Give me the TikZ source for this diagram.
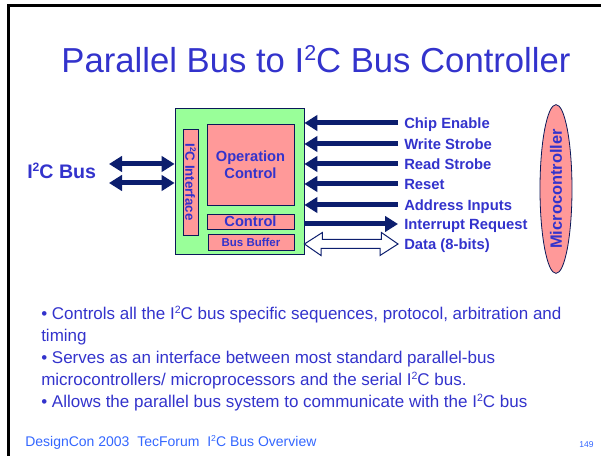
\documentclass[tikz,border=0pt]{standalone}
\usepackage{graphicx}
\usepackage{fontspec}
\setmainfont{Liberation Sans}
\usetikzlibrary{arrows.meta,shapes.geometric,positioning}

\definecolor{titleblue}{RGB}{51,51,204}
\definecolor{navy}{RGB}{12,30,110}
\definecolor{chipgreen}{RGB}{153,255,153}
\definecolor{salmon}{RGB}{255,153,153}
\definecolor{footblue}{RGB}{51,102,255}
\newcommand{\pxu}{0.75pt}
\newcommand{\Itwo}{I\raisebox{0.36em}{\scalebox{0.62}{2}}C}

\begin{document}
\begin{tikzpicture}[x=0.75pt, y=-0.75pt, >={Triangle[length=9.75pt,width=11.5pt]},
    block/.style={draw=navy!80!black, line width=0.6pt, fill=salmon, inner sep=0pt, text=titleblue},
    sig/.style={draw=navy, line width=3.75pt},
    lbl/.style={anchor=west, text=titleblue, font=\bfseries\fontsize{11.1pt}{13pt}\selectfont,
        inner xsep=4.5pt, inner ysep=0pt, text height=8pt, text depth=0pt}]
    \useasboundingbox (0,0) rectangle (601,456);

    % slide frame
    \draw[line width=2.25pt] (8,460) -- (8,6) -- (605,6);

    \node[anchor=base, text=titleblue, font=\fontsize{26pt}{30pt}\selectfont, inner sep=0]
        (title) at (316,73) {Parallel Bus to \Itwo{} Bus Controller};

    % controller chip
    \node[draw=navy!80!black, line width=0.6pt, fill=chipgreen, inner sep=0,
        minimum width={129*\pxu}, minimum height={146*\pxu}] (chip) at (239.5,181) {};
    \node[block, rotate=-90, minimum width={106*\pxu}, minimum height={15*\pxu},
        font=\bfseries\fontsize{10pt}{12pt}\selectfont] (iface) at (190.5,182) {\Itwo{} Interface};
    \node[block, align=center, minimum width={87*\pxu}, minimum height={81*\pxu},
        font=\bfseries\fontsize{11pt}{12.5pt}\selectfont] (opctl) at (250.5,164.5) {Operation\\Control};
    \node[block, minimum width={87*\pxu}, minimum height={15*\pxu},
        font=\bfseries\fontsize{11pt}{12pt}\selectfont] (ctl) at (250.5,221.5) {Control};
    \node[block, minimum width={86*\pxu}, minimum height={16*\pxu},
        font=\bfseries\fontsize{8.6pt}{10pt}\selectfont] (buf) at (251,242) {Bus Buffer};

    % serial side
    \node[anchor=base west, inner sep=0, text=titleblue, font=\bfseries\fontsize{14.7pt}{16pt}\selectfont]
        (bus) at (27,179) {\Itwo{} Bus};
    \coordinate (sda) at (109,164);
    \coordinate (scl) at (109,183);
    \draw[sig,<->] (sda) -- (sda -| chip.west);
    \draw[sig,<->] (scl) -- (scl -| chip.west);

    % parallel side
    \foreach \nm/\yy/\txt in {ce/123/Chip Enable, ws/144/Write Strobe, rs/164/Read Strobe,
        rst/184/Reset, ai/205/Address Inputs}{
        \node[lbl] (\nm) at (398,\yy) {\txt};
        \draw[sig,->] (\nm.west) -- (\nm.west -| chip.east);
    }
    \node[lbl] (irq) at (398,224) {Interrupt Request};
    \draw[sig,->] (irq.west -| chip.east) -- (irq.west);
    \node[lbl] (data) at (398,244) {Data (8-bits)};
    \coordinate (dl) at (data.west -| chip.east);
    \draw[navy, line width=0.75pt, fill=white, line join=miter]
        (dl) -- ++(18,-11.5) -- ++(0,7) -- ++(59,0) -- ++(0,-7) -- (data.west)
        -- ++(-18,11.5) -- ++(0,-7) -- ++(-59,0) -- ++(0,7) -- cycle;

    \node[ellipse, draw=navy!80!black, line width=0.6pt, fill=salmon, rotate=90, inner sep=0,
        minimum width={155*\pxu}, minimum height={32*\pxu}, text=titleblue,
        font=\bfseries\fontsize{12.3pt}{14pt}\selectfont] (mcu) at (556,189) {Microcontroller};

    % notes
    \node[anchor=north west, align=left, inner sep=0, text=titleblue,
        font=\fontsize{12.75pt}{16.5pt}\selectfont] (notes) at (41,306)
        {• Controls all the \Itwo{} bus specific sequences, protocol, arbitration and\\
         timing\\
         • Serves as an interface between most standard parallel-bus\\
         microcontrollers/ microprocessors and the serial \Itwo{} bus.\\
         • Allows the parallel bus system to communicate with the \Itwo{} bus};

    \node[anchor=base west, inner sep=0, text=footblue, font=\fontsize{10.5pt}{12pt}\selectfont]
        (foot) at (25,447) {DesignCon 2003\ \ TecForum\ \ \Itwo{} Bus Overview};
    \node[anchor=base west, inner sep=0, text=footblue, font=\fontsize{6.4pt}{8pt}\selectfont]
        (page) at (579,448) {149};
\end{tikzpicture}
\end{document}
